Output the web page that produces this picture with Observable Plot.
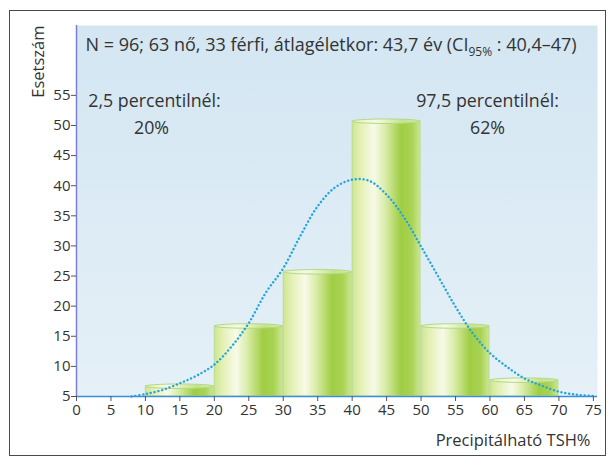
<!DOCTYPE html>
<html><head><meta charset="utf-8">
<script src="https://cdn.jsdelivr.net/npm/d3@7"></script>
<script src="https://cdn.jsdelivr.net/npm/@observablehq/plot@0.6"></script>
<style>
body{margin:0;background:#fff;}
#wrap{position:relative;width:616px;height:465px;}
#border{position:absolute;left:9px;top:10px;width:597px;height:446px;border:1.5px solid #4a4a4a;box-sizing:border-box;pointer-events:none;}
svg{font-family:"Open Sans",sans-serif;}
svg g[aria-label$="tick label"] text, svg g[aria-label$="tick label"] {font-size:15px !important;}
</style></head><body><div id="wrap"><div id="border"></div></div>
<script>
const binStart = [10, 20, 30, 40, 50, 60];
const binEnd   = [20, 30, 40, 50, 60, 70];
const counts   = [7, 17, 26, 51, 17, 8];
const yBase = 5;
// Dotted normal curve
const curveX = [8, 10, 12.5, 15, 17.5, 20, 22.5, 25, 27.5, 30, 32.5, 35, 37.5, 40, 42.5, 45, 47.5, 50, 52.5, 55, 57.5, 60, 62.5, 65, 67.5, 70, 72.5, 75];
const curveY = [5.0, 5.4, 6.1, 7.2, 8.5, 10.3, 13.3, 17.2, 22.3, 26.3, 31.7, 36.6, 39.7, 41.0, 40.8, 38.5, 34.8, 29.9, 24.9, 19.9, 15.5, 12.2, 9.9, 8.0, 6.8, 5.8, 5.3, 5.1];
const xTicks = [0, 5, 10, 15, 20, 25, 30, 35, 40, 45, 50, 55, 60, 65, 70, 75];
const yTicks = [5, 10, 15, 20, 25, 30, 35, 40, 45, 50, 55];
const titleMain = "N = 96; 63 nő, 33 férfi, átlagéletkor: 43,7 év (CI";
const titleSub = "95%";
const titleEnd = " : 40,4–47)";
const leftNote = ["2,5 percentilnél:", "20%"];
const rightNote = ["97,5 percentilnél:", "62%"];
const xLabel = "Precipitálható TSH%";
const yLabel = "Esetszám";

const bars = counts.map((c, i) => ({x1: binStart[i], x2: binEnd[i], y: c}));
const curve = curveX.map((x, i) => ({x, y: curveY[i]}));
const textColor = "#333333";

const chart = Plot.plot({
  width: 616,
  height: 465,
  marginLeft: 76,
  marginRight: 19,
  marginTop: 25,
  marginBottom: 69,
  style: {fontFamily: "Open Sans, sans-serif", color: textColor, background: "transparent"},
  x: {domain: [0, 75.6]},
  y: {domain: [5, 66.6]},
  marks: [
    Plot.frame({fill: "url(#bgGrad)", stroke: "none"}),
    Plot.rect(bars, {x1: "x1", x2: "x2", y1: () => yBase, y2: d => d.y - 0.35, fill: "url(#barGrad)", stroke: "#b9dc8e", strokeWidth: 1, insetLeft: 0.5, insetRight: 0.5}),
    Plot.rect(bars, {x1: "x1", x2: "x2", y1: d => d.y - 0.75, y2: "y", fill: "url(#capGrad)", stroke: "#b3d985", strokeWidth: 1, insetLeft: 0.5, insetRight: 0.5, rx: 60, ry: 20}),
    Plot.line(curve, {x: "x", y: "y", curve: "catmull-rom", stroke: "#25a6d8", strokeWidth: 2.4, strokeDasharray: "0.1,3.8", strokeLinecap: "round"}),
    Plot.ruleY([yBase], {stroke: "#3a8ee0", strokeWidth: 1.5}),
    Plot.ruleX([0], {stroke: "#7c7fd4", strokeWidth: 1.5}),
    Plot.axisY({ticks: yTicks, tickSize: 5, tickPadding: 1, label: null, stroke: "#555", fill: textColor}),
    Plot.axisX({ticks: xTicks, tickSize: 5, tickPadding: 3, label: null, stroke: "#555", fill: textColor}),
    Plot.text([yLabel], {frameAnchor: "top-left", dx: -38, dy: 0, rotate: -90, textAnchor: "end", lineAnchor: "middle", fontSize: 16.5, fill: textColor}),
    Plot.text([titleMain], {frameAnchor: "top-left", dx: 9, dy: 20, textAnchor: "start", lineAnchor: "middle", fontSize: 18, fill: textColor}),
    Plot.text([leftNote[0]], {frameAnchor: "top-left", dx: 78, dy: 76, textAnchor: "middle", lineAnchor: "middle", fontSize: 17.8, fill: textColor}),
    Plot.text([leftNote[1]], {frameAnchor: "top-left", dx: 75, dy: 103, textAnchor: "middle", lineAnchor: "middle", fontSize: 17.8, fill: textColor}),
    Plot.text([rightNote[0]], {frameAnchor: "top-left", dx: 411, dy: 76, textAnchor: "middle", lineAnchor: "middle", fontSize: 17.8, fill: textColor}),
    Plot.text([rightNote[1]], {frameAnchor: "top-left", dx: 411, dy: 103, textAnchor: "middle", lineAnchor: "middle", fontSize: 17.8, fill: textColor}),
    Plot.text([xLabel], {frameAnchor: "bottom-right", dx: -7, dy: 44, textAnchor: "end", lineAnchor: "middle", fontSize: 16.5, fill: textColor})
  ]
});

// gradients
const defs = d3.create("svg:defs");
function grad(id, stops, vertical) {
  const g = defs.append("linearGradient").attr("id", id)
    .attr("x1", 0).attr("y1", 0).attr("x2", vertical ? 0 : 1).attr("y2", vertical ? 1 : 0);
  stops.forEach(([o, c]) => g.append("stop").attr("offset", o).attr("stop-color", c));
}
grad("bgGrad", [[0, "#d3e6f2"], [1, "#e5f0f7"]], true);
grad("barGrad", [[0, "#cfe690"], [0.12, "#e3f0b4"], [0.32, "#f7fae8"], [0.48, "#dbedab"], [0.72, "#9fcd43"], [0.88, "#aad355"], [1, "#cde694"]], false);
grad("capGrad", [[0, "#e4f1bd"], [0.35, "#f6fae6"], [0.75, "#c6e38a"], [1, "#d9eca8"]], false);
chart.insertBefore(defs.node(), chart.firstChild);

// tick label size
d3.select(chart).selectAll('g[aria-label$="tick label"]').attr("font-size", 15).selectAll("text").attr("font-size", 15);

// title subscript
d3.select(chart).selectAll("text").each(function() {
  if (this.textContent === titleMain) {
    const t = d3.select(this);
    t.append("tspan").attr("dy", 4.5).attr("font-size", 12).text(titleSub);
    t.append("tspan").attr("dy", -4.5).text(titleEnd);
  }
});

document.getElementById("wrap").appendChild(chart);
</script></body></html>
